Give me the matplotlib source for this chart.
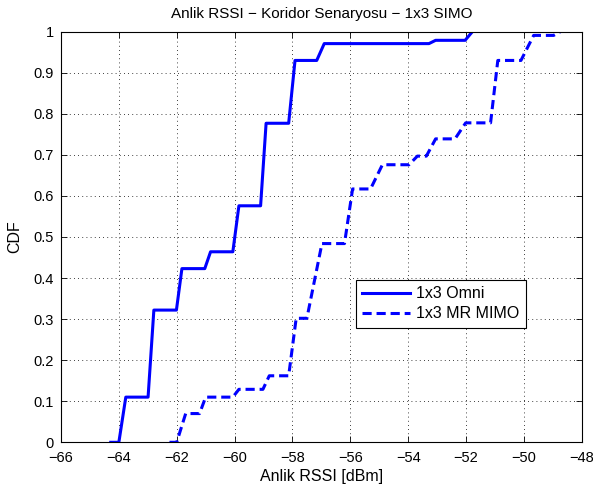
import matplotlib
matplotlib.use("Agg")
import matplotlib.pyplot as plt

plt.rcParams['font.family'] = ['Liberation Sans', 'DejaVu Sans']
plt.rcParams['axes.unicode_minus'] = True

omni_x = [-64.28, -64.0, -63.76, -62.99, -62.79, -62.01, -61.82, -61.03, -60.83, -60.06,
          -59.85, -59.10, -58.91, -58.13, -57.91, -57.16, -56.90, -53.28, -53.05,
          -52.03, -51.78]
omni_y = [0.0, 0.0, 0.110, 0.110, 0.322, 0.322, 0.423, 0.423, 0.464, 0.464,
          0.576, 0.576, 0.777, 0.777, 0.930, 0.930, 0.971, 0.971, 0.979,
          0.979, 1.0]

mimo_x = [-62.25, -62.0, -61.69, -61.21, -61.0, -60.06, -59.85, -59.02, -58.80,
          -58.13, -57.87, -57.50, -56.98, -56.20, -55.92, -55.30, -54.89, -53.97,
          -53.68, -53.37, -53.05, -52.38, -52.01, -51.15, -50.90, -50.10, -49.66,
          -48.97, -48.74]
mimo_y = [0.0, 0.0, 0.070, 0.070, 0.110, 0.110, 0.129, 0.129, 0.162,
          0.162, 0.302, 0.302, 0.484, 0.484, 0.617, 0.617, 0.676, 0.676,
          0.697, 0.697, 0.739, 0.739, 0.778, 0.778, 0.930, 0.930, 0.991,
          0.991, 1.0]

xticks = list(range(-66, -47, 2))
yticks = [0, 0.1, 0.2, 0.3, 0.4, 0.5, 0.6, 0.7, 0.8, 0.9, 1]
ytick_labels = ['0', '0.1', '0.2', '0.3', '0.4', '0.5', '0.6', '0.7', '0.8', '0.9', '1']

W, H = 593, 491
L, R, T, B = 61, 581.7, 31.7, 442.3
fig = plt.figure(figsize=(W / 100, H / 100), dpi=100)
ax = fig.add_axes([L / W, 1 - B / H, (R - L) / W, (B - T) / H])

ax.plot(omni_x, omni_y, color='#0000ff', lw=2.2, label='1x3 Omni')
ax.plot(mimo_x, mimo_y, color='#0000ff', lw=2.2, dashes=(3.0, 1.6), label='1x3 MR MIMO')

ax.set_xlim(-66, -48)
ax.set_ylim(0, 1)
ax.set_xticks(xticks)
ax.set_xticklabels([f'\u2212{abs(v)}' for v in xticks])
ax.set_yticks(yticks)
ax.set_yticklabels(ytick_labels)
ax.grid(True, color='black', linestyle=(0, (1, 4)), linewidth=0.6)
ax.tick_params(direction='in', top=True, right=True, labelsize=10.5, length=4, width=0.6)
ax.tick_params(axis='x', pad=6)
ax.tick_params(axis='y', pad=5)
for s in ax.spines.values():
    s.set_linewidth(0.8)

ax.set_title('Anlik RSSI \u2212 Koridor Senaryosu \u2212 1x3 SIMO', fontsize=11, pad=10)
ax.set_xlabel('Anlik RSSI [dBm]', fontsize=11.5, labelpad=3)
ax.set_ylabel('CDF', fontsize=11.5, labelpad=8)

leg = ax.legend(loc='upper left', bbox_to_anchor=((355.7 - L) / (R - L), (B - 280) / (B - T)),
                fontsize=11.5, frameon=True, fancybox=False, edgecolor='black', framealpha=1,
                handlelength=3.0, borderpad=0.4, labelspacing=0.32, handletextpad=0.4,
                borderaxespad=0)
leg.get_frame().set_linewidth(0.8)

fig.savefig('out.png', dpi=100)
